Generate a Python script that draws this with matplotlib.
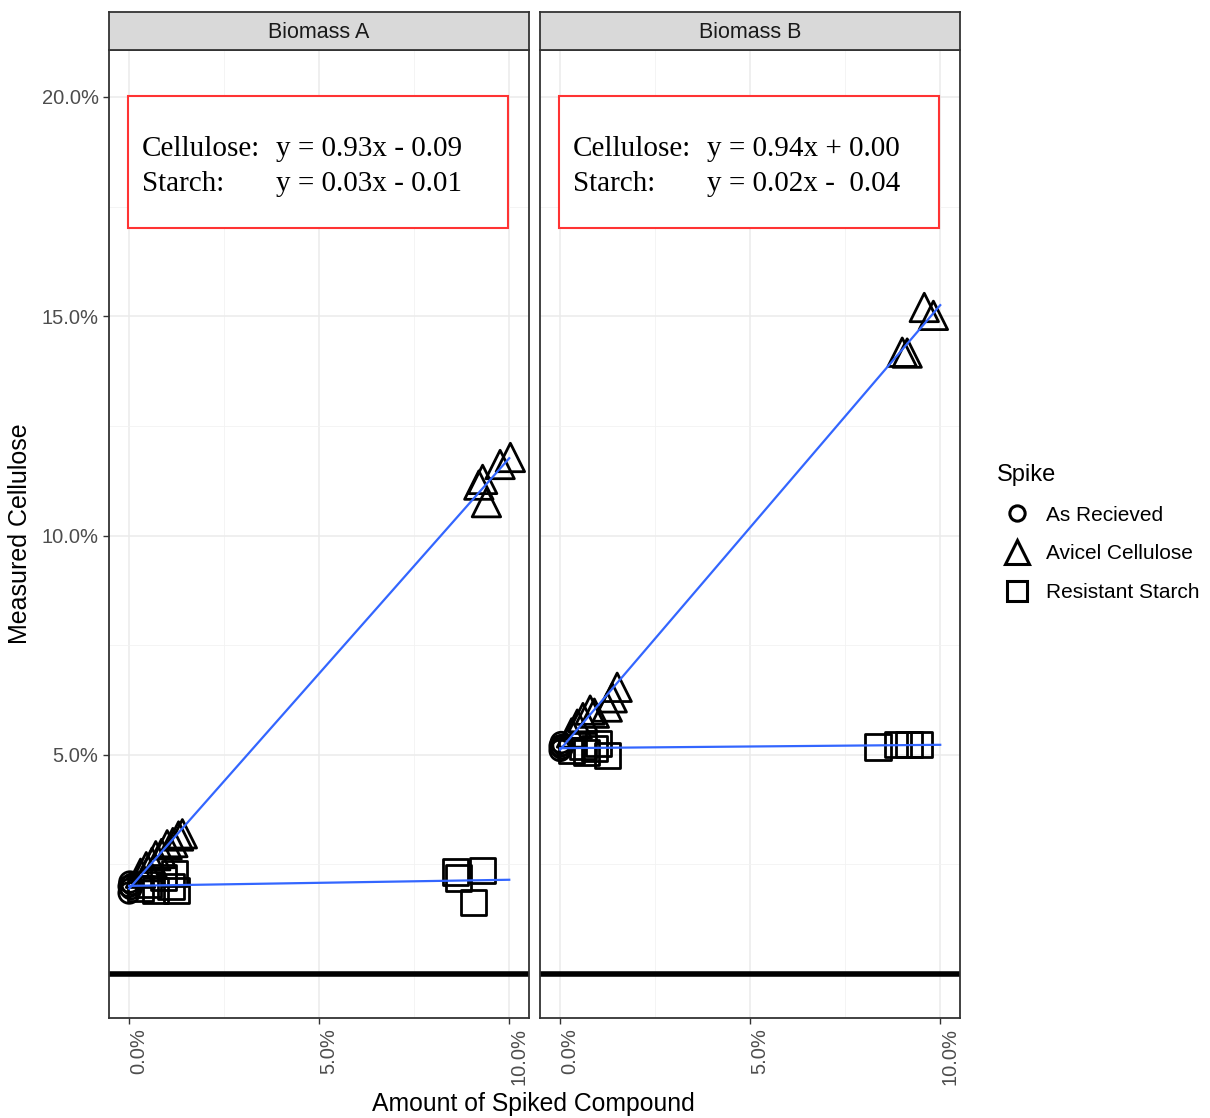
import matplotlib
matplotlib.use("Agg")
import matplotlib.pyplot as plt
import matplotlib.patches as patches
import matplotlib.transforms as mtransforms
from matplotlib.lines import Line2D
import numpy as np

# --- data (values in %) ---
panels = ["Biomass A", "Biomass B"]

recv_x = {"Biomass A": [0.0, 0.0, 0.02, 0.05, 0.08],
          "Biomass B": [0.0, 0.0, 0.03, 0.05, 0.08]}
recv_y = {"Biomass A": [1.85, 2.0, 2.1, 1.95, 2.05],
          "Biomass B": [5.1, 5.2, 5.28, 5.15, 5.22]}

avicel_x = {"Biomass A": [0.3, 0.45, 0.6, 0.7, 0.85, 1.0, 1.15, 1.3, 1.4,
                          9.2, 9.3, 9.4, 9.76, 10.03],
            "Biomass B": [0.3, 0.45, 0.6, 0.79, 0.9, 1.24, 1.37, 1.5,
                          9.0, 9.13, 9.58, 9.82]}
avicel_y = {"Biomass A": [2.3, 2.45, 2.55, 2.7, 2.75, 2.95, 3.0, 3.15, 3.2,
                          11.15, 11.28, 10.75, 11.62, 11.78],
            "Biomass B": [5.5, 5.7, 5.85, 6.02, 5.95, 6.09, 6.3, 6.54,
                          14.18, 14.16, 15.2, 15.02]}

starch_x = {"Biomass A": [0.3, 0.5, 0.7, 0.9, 1.1, 1.2, 1.25,
                          8.58, 8.66, 9.05, 9.29],
            "Biomass B": [0.3, 0.6, 0.7, 0.9, 1.0, 1.24,
                          8.36, 8.89, 9.18, 9.45]}
starch_y = {"Biomass A": [1.95, 2.05, 1.9, 2.2, 2.0, 2.3, 1.9,
                          2.33, 2.19, 1.64, 2.37],
            "Biomass B": [5.1, 5.2, 5.05, 5.15, 5.25, 4.99,
                          5.18, 5.24, 5.24, 5.24]}

eq_cell = {"Biomass A": "y = 0.93x - 0.09", "Biomass B": "y = 0.94x + 0.00"}
eq_starch = {"Biomass A": "y = 0.03x - 0.01", "Biomass B": "y = 0.02x -  0.04"}

x_ticks = [0, 5, 10]
x_ticklabels = ["0.0%", "5.0%", "10.0%"]
y_ticks = [5, 10, 15, 20]
y_ticklabels = ["5.0%", "10.0%", "15.0%", "20.0%"]

spike_labels = ["As Recieved", "Avicel Cellulose", "Resistant Starch"]

W, H = 1210, 1118
fig = plt.figure(figsize=(W / 100, H / 100), dpi=100)
fig.patch.set_facecolor("white")

panel_left = [109, 540]
panel_w = 420
top_px, bottom_px, strip_px = 50, 1018, 38
edge = "#333333"
blue = "#3366FF"
sans = "Liberation Sans"
serif = "Liberation Serif"

for i, name in enumerate(panels):
    ax = fig.add_axes([panel_left[i] / W, 1 - bottom_px / H,
                       panel_w / W, (bottom_px - top_px) / H])
    ax.set_xlim(-0.53, 10.52)
    ax.set_ylim(-1.0, 21.07)

    ax.set_xticks(x_ticks)
    ax.set_xticks([2.5, 7.5], minor=True)
    ax.set_xticklabels([])
    ax.set_yticks(y_ticks)
    ax.set_yticks([2.5, 7.5, 12.5, 17.5], minor=True)
    ax.tick_params(which="major", length=4, color=edge, width=1)
    ax.tick_params(which="minor", length=0)
    if i == 0:
        ax.set_yticklabels(y_ticklabels, fontsize=14.5, color="#4D4D4D", family=sans)
    else:
        ax.set_yticklabels([])
        ax.tick_params(axis="y", which="major", length=0)

    # rotated x tick labels, shifted a bit right of the tick like ggplot
    trans = mtransforms.blended_transform_factory(ax.transData, ax.transAxes) + \
        mtransforms.ScaledTranslation(10 / 100, -10 / 100, fig.dpi_scale_trans)
    for xv, lab in zip(x_ticks, x_ticklabels):
        ax.text(xv, 0, lab, rotation=90, ha="center", va="top", fontsize=14.5,
                color="#4D4D4D", family=sans, transform=trans, clip_on=False)

    ax.grid(True, which="major", color="#EBEBEB", linewidth=1.1, zorder=0)
    ax.grid(True, which="minor", color="#F2F2F2", linewidth=0.6, zorder=0)
    ax.set_axisbelow(True)
    for sp in ax.spines.values():
        sp.set_color(edge)
        sp.set_linewidth(1.3)

    ax.axhline(0, color="black", linewidth=4, zorder=2)

    # fitted lines
    cx = np.array(recv_x[name] + avicel_x[name])
    cy = np.array(recv_y[name] + avicel_y[name])
    sx = np.array(recv_x[name] + starch_x[name])
    sy = np.array(recv_y[name] + starch_y[name])
    xs = np.array([0, 10])
    for px, py in [(cx, cy), (sx, sy)]:
        k, b = np.polyfit(px, py, 1)
        ax.plot(xs, k * xs + b, color=blue, linewidth=1.6, zorder=4)

    ax.scatter(recv_x[name], recv_y[name], marker="o", s=220, facecolors="none",
               edgecolors="black", linewidths=2, zorder=3)
    ax.scatter(avicel_x[name], avicel_y[name], marker="^", s=420, facecolors="none",
               edgecolors="black", linewidths=2, zorder=3)
    ax.scatter(starch_x[name], starch_y[name], marker="s", s=330, facecolors="none",
               edgecolors="black", linewidths=2, zorder=3)

    # equation box
    ax.add_patch(patches.Rectangle((-0.04, 17.02), 10.0, 3.0, facecolor="white",
                                   edgecolor="#FF3333", linewidth=1.5, zorder=5))
    ax.text(0.33, 18.81, "Cellulose:", fontsize=21, family=serif,
            va="center", ha="left", zorder=6)
    ax.text(0.33, 18.01, "Starch:", fontsize=21, family=serif,
            va="center", ha="left", zorder=6)
    ax.text(3.87, 18.81, eq_cell[name], fontsize=21, family=serif,
            va="center", ha="left", zorder=6)
    ax.text(3.87, 18.01, eq_starch[name], fontsize=21, family=serif,
            va="center", ha="left", zorder=6)

    # strip
    sax = fig.add_axes([panel_left[i] / W, 1 - top_px / H,
                        panel_w / W, strip_px / H])
    sax.set_facecolor("#D9D9D9")
    sax.set_xticks([])
    sax.set_yticks([])
    for sp in sax.spines.values():
        sp.set_color(edge)
        sp.set_linewidth(1.3)
    sax.text(0.5, 0.45, name, ha="center", va="center", fontsize=15.5,
             color="#1A1A1A", family=sans, transform=sax.transAxes)

fig.text(20 / W, 1 - 534 / H, "Measured Cellulose", rotation=90, ha="center",
         va="center", fontsize=18, family=sans)
fig.text(533 / W, 1 - 1104 / H, "Amount of Spiked Compound", ha="center",
         va="center", fontsize=17.8, family=sans)

handles = [Line2D([], [], marker=m, linestyle="none", markerfacecolor="none",
                  markeredgecolor="black", markeredgewidth=2.2, markersize=ms)
           for m, ms in [("o", 11), ("^", 17), ("s", 15)]]
leg = fig.legend(handles, spike_labels, title="Spike", loc="upper left",
                 bbox_to_anchor=(978 / W, 1 - 445 / H), frameon=False,
                 prop={"family": sans, "size": 15},
                 title_fontproperties={"family": sans, "size": 17},
                 labelspacing=0.95, handletextpad=0.45, handlelength=1.9)
leg._legend_box.align = "left"

fig.savefig("out.png", dpi=100, facecolor="white")
